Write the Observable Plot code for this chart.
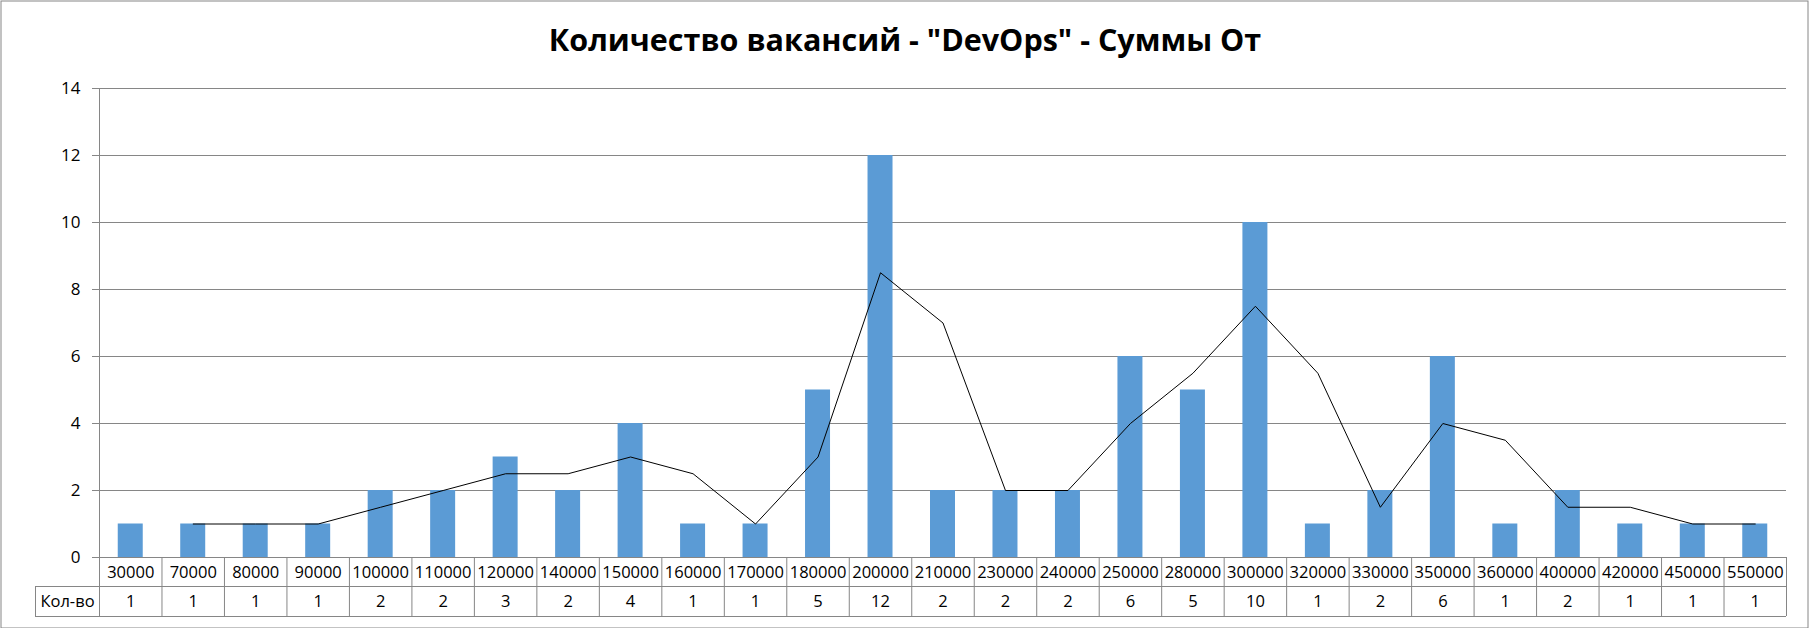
<!DOCTYPE html>
<html>
<head>
<meta charset="utf-8">
<script src="https://cdn.jsdelivr.net/npm/d3@7"></script>
<script src="https://cdn.jsdelivr.net/npm/@observablehq/plot@0.6"></script>
<style>
  html, body { margin: 0; padding: 0; background: #fff; }
  svg { display: block; }
</style>
</head>
<body>
<div id="chart"></div>
<script>
const title = 'Количество вакансий - "DevOps" - Суммы От';
const rowLabel = "Кол-во";
const categories = ["30000","70000","80000","90000","100000","110000","120000","140000","150000","160000","170000","180000","200000","210000","230000","240000","250000","280000","300000","320000","330000","350000","360000","400000","420000","450000","550000"];
const counts = [1,1,1,1,2,2,3,2,4,1,1,5,12,2,2,2,6,5,10,1,2,6,1,2,1,1,1];
const trend = [null,1,1,1,1.5,2,2.5,2.5,3,2.5,1,3,8.5,7,2,2,4,5.5,7.5,5.5,1.5,4,3.5,1.5,1.5,1,1];
const yTicks = [0,2,4,6,8,10,12,14];

const W = 1809, H = 628;
const mL = 99, mR = 23, mT = 88, mB = 71;
const step = (W - mL - mR) / categories.length;
const grid = "#868686";
const font = "'Open Sans', 'Noto Sans', sans-serif";

const bars = categories.map((c, i) => ({cat: c, n: counts[i]}));
const line = categories.map((c, i) => ({cat: c, v: trend[i]})).filter(d => d.v != null);

const chart = Plot.plot({
  width: W, height: H,
  marginLeft: mL, marginRight: mR, marginTop: mT, marginBottom: mB,
  style: {fontFamily: font, background: "#fff", color: "#000"},
  x: {domain: categories, paddingInner: 0.6, paddingOuter: 0.3, round: false, axis: null},
  y: {domain: [0, 14], axis: null},
  marks: [
    Plot.frame({stroke: grid, insetLeft: -98.5, insetTop: -87.5, insetRight: -21.5, insetBottom: -70.5}),
    Plot.ruleY(yTicks, {y: d => d, stroke: grid, strokeWidth: 1, insetLeft: -7}),
    Plot.ruleX([categories[0]], {x: d => d, dx: -step / 2, stroke: grid, insetBottom: -59}),
    Plot.ruleX(categories, {x: d => d, dx: step / 2, stroke: grid, insetTop: (H - mT - mB), insetBottom: -59}),
    Plot.ruleX([categories[0]], {x: d => d, dx: -step / 2 - 64, stroke: grid, insetTop: (H - mT - mB) + 29, insetBottom: -59}),
    Plot.ruleY([0], {y: d => d, dy: 29, stroke: grid, insetLeft: -64}),
    Plot.ruleY([0], {y: d => d, dy: 59, stroke: grid, insetLeft: -64}),
    Plot.barY(bars, {x: "cat", y: "n", fill: "#5B9BD5"}),
    Plot.line(line, {x: "cat", y: "v", stroke: "#000", strokeWidth: 1}),
    Plot.text(yTicks, {y: d => d, text: d => String(d), frameAnchor: "left", lineAnchor: "middle", dx: -19, textAnchor: "end", fontSize: 17, fill: "#000"}),
    Plot.text(categories, {x: d => d, text: d => d, frameAnchor: "bottom", lineAnchor: "middle", dy: 15, fontSize: 16.5, fill: "#000"}),
    Plot.text(bars, {x: "cat", text: d => String(d.n), frameAnchor: "bottom", lineAnchor: "middle", dy: 44, fontSize: 16.5, fill: "#000"}),
    Plot.text([rowLabel], {text: d => d, frameAnchor: "bottom-left", lineAnchor: "middle", dx: -32, dy: 44, textAnchor: "middle", fontSize: 16.5, fill: "#000"}),
    Plot.text([title], {text: d => d, frameAnchor: "top", lineAnchor: "middle", dx: -38, dy: -47, fontSize: 30.5, fontWeight: "bold", fill: "#000"})
  ]
});
document.getElementById("chart").appendChild(chart);
</script>
</body>
</html>
